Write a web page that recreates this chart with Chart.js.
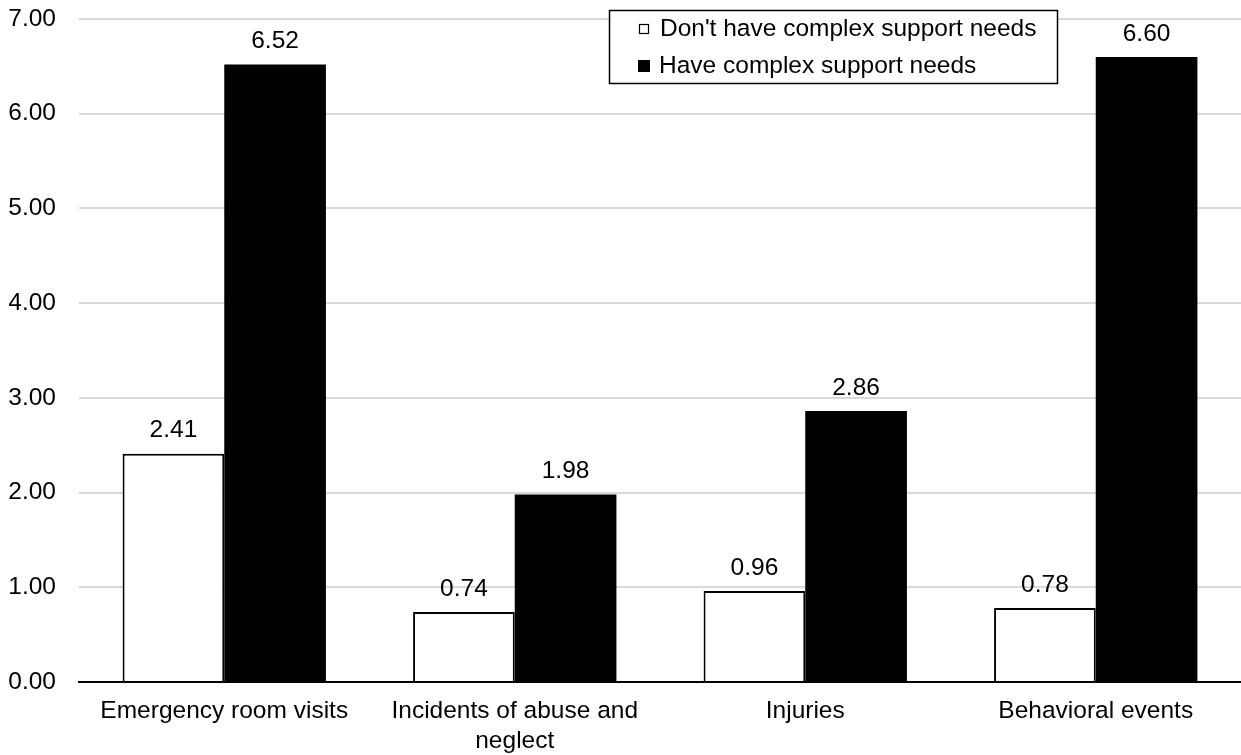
<!DOCTYPE html>
<html>
<head>
<meta charset="utf-8">
<script src="https://cdn.jsdelivr.net/npm/chart.js@4/dist/chart.umd.min.js"></script>
<style>
  html, body { margin: 0; padding: 0; background: #fff; }
  #wrap { width: 1241px; height: 755px; position: relative; }
</style>
</head>
<body>
<div id="wrap"><canvas id="c" width="1241" height="755"></canvas></div>
<script>
const categories = [
  "Emergency room visits",
  ["Incidents of abuse and", "neglect"],
  "Injuries",
  "Behavioral events"
];
const seriesNames = ["Don't have complex support needs", "Have complex support needs"];
const noComplexNeeds = [2.41, 0.74, 0.96, 0.78];
const complexNeeds = [6.52, 1.98, 2.86, 6.60];
const yMin = 0, yMax = 7, yStep = 1;

const FONT = "'Liberation Sans', Arial, sans-serif";
const FSIZE = 24.5;

const dataLabels = {
  id: 'dataLabels',
  afterDatasetsDraw(chart) {
    const ctx = chart.ctx;
    ctx.save();
    ctx.font = FSIZE + "px " + FONT;
    ctx.fillStyle = '#000';
    ctx.textAlign = 'center';
    ctx.textBaseline = 'middle';
    chart.data.datasets.forEach((ds, i) => {
      chart.getDatasetMeta(i).data.forEach((bar, j) => {
        ctx.fillText(ds.data[j].toFixed(2), bar.x, bar.y - 23);
      });
    });
    ctx.restore();
  }
};

const boxLegend = {
  id: 'boxLegend',
  afterDraw(chart) {
    const ctx = chart.ctx;
    ctx.save();
    ctx.fillStyle = '#fff';
    ctx.fillRect(609, 10, 449, 74);
    ctx.strokeStyle = '#000';
    ctx.lineWidth = 1.5;
    ctx.strokeRect(609.5, 10.5, 448, 73);
    ctx.font = FSIZE + "px " + FONT;
    ctx.textBaseline = 'middle';
    ctx.textAlign = 'left';
    const rows = [29, 66];
    chart.data.datasets.forEach((ds, i) => {
      const y = rows[i];
      if (i === 0) {
        ctx.fillStyle = '#fff';
        ctx.fillRect(639, y - 5, 10, 10);
        ctx.lineWidth = 1.2;
        ctx.strokeStyle = '#000';
        ctx.strokeRect(639.5, y - 4.5, 9, 9);
      } else {
        ctx.fillStyle = '#000';
        ctx.fillRect(638, y - 6, 12, 12);
      }
      ctx.fillStyle = '#000';
      ctx.fillText(ds.label, i === 0 ? 660 : 659, y);
    });
    ctx.restore();
  }
};

new Chart(document.getElementById('c'), {
  type: 'bar',
  data: {
    labels: categories,
    datasets: [
      { label: seriesNames[0], data: noComplexNeeds, backgroundColor: '#ffffff', borderColor: '#000000', borderWidth: 2 },
      { label: seriesNames[1], data: complexNeeds, backgroundColor: '#000000', borderColor: '#000000', borderWidth: 0 }
    ]
  },
  options: {
    responsive: false,
    animation: false,
    devicePixelRatio: 1,
    layout: { padding: { top: 19, left: 9, right: 0, bottom: 0 } },
    datasets: { bar: { barPercentage: 1.0, categoryPercentage: 0.7 } },
    plugins: {
      legend: { display: false },
      tooltip: { enabled: false }
    },
    scales: {
      x: {
        grid: { display: false, drawTicks: false },
        border: { display: true, color: '#000', width: 2 },
        ticks: { color: '#000', font: { family: FONT, size: FSIZE, lineHeight: 1.2 }, padding: 15, maxRotation: 0, autoSkip: false },
        afterFit(s) { s.height = 73; s.paddingLeft = 0; s.paddingRight = 0; }
      },
      y: {
        min: yMin, max: yMax,
        grid: { color: '#d9d9d9', lineWidth: 2, drawTicks: false },
        border: { display: false },
        ticks: { stepSize: yStep, color: '#000', padding: 23, font: { family: FONT, size: FSIZE }, callback: v => Number(v).toFixed(2) },
        afterFit(s) { s.width = 70; s.paddingTop = 0; s.paddingBottom = 0; }
      }
    }
  },
  plugins: [dataLabels, boxLegend]
});
</script>
</body>
</html>
